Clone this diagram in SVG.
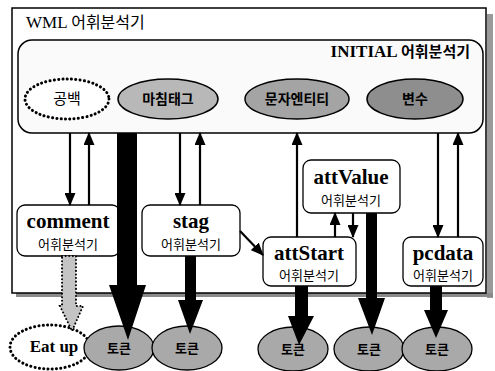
<svg xmlns="http://www.w3.org/2000/svg" width="495" height="371" viewBox="0 0 495 371">
<defs>
<marker id="ah" markerUnits="userSpaceOnUse" viewBox="0 0 13 11" markerWidth="13" markerHeight="11" refX="12" refY="5.5" orient="auto">
<path d="M0,0 L13,5.5 L0,11 z" fill="#000"/>
</marker>
<style>
.kr{font-family:"Noto Sans CJK KR","Noto Sans",sans-serif;fill:#000}
.ser{font-family:"Liberation Serif","Noto Sans CJK KR",serif;fill:#000}
.b{font-weight:bold}
.box{fill:#fff;stroke:#000;stroke-width:1.3}
.gell{stroke:#000;stroke-width:1.5}
.dot{fill:#fff;stroke:#000;stroke-width:3;stroke-dasharray:0.1 4.2;stroke-linecap:round}
.thin{stroke:#000;stroke-width:2.2;fill:none;marker-end:url(#ah)}
.thick{fill:#000}
.tok{fill:#a9a9a9;stroke:#000;stroke-width:1.3}
</style>
</defs>
<rect width="495" height="371" fill="#fff"/>
<g id="wml">
<rect x="487" y="14" width="6" height="284" fill="#9a9a9a"/>
<rect x="16" y="293" width="477" height="4" fill="#8a8a8a"/>
<rect x="12" y="8" width="474" height="285" fill="#fff" stroke="#000" stroke-width="1.5"/>
<text x="26" y="28" class="ser" font-size="17">WML <tspan class="kr" font-size="16">어휘분석기</tspan></text>
</g>
<g id="initial">
<rect x="18" y="40" width="465" height="93" rx="14" fill="#fafafa" stroke="#000" stroke-width="1.5"/>
<text x="470" y="57" text-anchor="end" class="ser b" font-size="17">INITIAL <tspan class="kr" font-size="15">어휘분석기</tspan></text>
</g>
<g id="gongbaek">
<ellipse cx="67" cy="99" rx="42" ry="20" class="dot"/>
<text x="67" y="104" text-anchor="middle" class="kr" font-size="15">공백</text>
</g>
<g id="machimtag">
<ellipse cx="168" cy="99" rx="50" ry="20" fill="#b8b8b8" class="gell"/>
<text x="168" y="104" text-anchor="middle" class="kr b" font-size="14">마침태그</text>
</g>
<g id="munjaentity">
<ellipse cx="297" cy="99" rx="52" ry="20" fill="#a4a4a4" class="gell"/>
<text x="297" y="104" text-anchor="middle" class="kr b" font-size="14">문자엔티티</text>
</g>
<g id="byeonsu">
<ellipse cx="415" cy="99" rx="48" ry="20" fill="#8e8e8e" class="gell"/>
<text x="415" y="104" text-anchor="middle" class="kr b" font-size="14">변수</text>
</g>
<g id="comment">
<rect x="17" y="205" width="103" height="51" rx="8" class="box"/>
<text x="68" y="228" text-anchor="middle" class="ser b" font-size="21">comment</text>
<text x="68" y="249" text-anchor="middle" class="kr" font-size="13">어휘분석기</text>
</g>
<g id="stag">
<rect x="142" y="205" width="98" height="51" rx="8" class="box"/>
<text x="191" y="228" text-anchor="middle" class="ser b" font-size="21">stag</text>
<text x="191" y="249" text-anchor="middle" class="kr" font-size="13">어휘분석기</text>
</g>
<g id="attValue">
<rect x="303" y="160" width="97" height="53" rx="8" class="box"/>
<text x="351" y="184" text-anchor="middle" class="ser b" font-size="21">attValue</text>
<text x="351" y="205" text-anchor="middle" class="kr" font-size="13">어휘분석기</text>
</g>
<g id="attStart">
<rect x="263" y="237" width="93" height="49" rx="8" class="box"/>
<text x="309" y="260" text-anchor="middle" class="ser b" font-size="21">attStart</text>
<text x="309" y="280" text-anchor="middle" class="kr" font-size="13">어휘분석기</text>
</g>
<g id="pcdata">
<rect x="403" y="237" width="80" height="49" rx="8" class="box"/>
<text x="443" y="260" text-anchor="middle" class="ser b" font-size="21">pcdata</text>
<text x="443" y="280" text-anchor="middle" class="kr" font-size="13">어휘분석기</text>
</g>
<g id="eatup">
<ellipse cx="50" cy="347" rx="40" ry="22" class="dot"/>
<text x="54" y="352" text-anchor="middle" class="ser b" font-size="17">Eat up</text>
</g>
<g id="token1">
<ellipse cx="119" cy="348" rx="35" ry="22" class="tok"/>
<text x="119" y="353" text-anchor="middle" class="kr b" font-size="13">토큰</text>
</g>
<g id="token2">
<ellipse cx="187" cy="348" rx="35" ry="22" class="tok"/>
<text x="187" y="353" text-anchor="middle" class="kr b" font-size="13">토큰</text>
</g>
<g id="token3">
<ellipse cx="293" cy="349" rx="35" ry="22" class="tok"/>
<text x="293" y="354" text-anchor="middle" class="kr b" font-size="13">토큰</text>
</g>
<g id="token4">
<ellipse cx="369" cy="349" rx="35" ry="22" class="tok"/>
<text x="369" y="354" text-anchor="middle" class="kr b" font-size="13">토큰</text>
</g>
<g id="token5">
<ellipse cx="437" cy="349" rx="35" ry="22" class="tok"/>
<text x="437" y="354" text-anchor="middle" class="kr b" font-size="13">토큰</text>
</g>
<g id="connectors">
<line x1="70" y1="133" x2="70" y2="205" class="thin"/>
<line x1="89" y1="205" x2="89" y2="133" class="thin"/>
<line x1="180" y1="133" x2="180" y2="205" class="thin"/>
<line x1="200" y1="205" x2="200" y2="133" class="thin"/>
<line x1="297" y1="237" x2="297" y2="133" class="thin"/>
<line x1="335" y1="237" x2="335" y2="213" class="thin"/>
<line x1="353" y1="213" x2="353" y2="237" class="thin"/>
<line x1="438" y1="133" x2="438" y2="237" class="thin"/>
<line x1="458" y1="237" x2="458" y2="133" class="thin"/>
<line x1="240" y1="231" x2="263" y2="255" class="thin"/>
<polygon class="thick" points="117,133 137,133 137,285 146,285 128,340 109,285 117,285"/>
<polygon class="thick" points="185,256 196,256 196,300 203,300 190,334 178,300 185,300"/>
<polygon class="thick" points="295,286 308,286 308,316 314,316 299,345 288,316 295,316"/>
<polygon class="thick" points="366,213 377,213 377,298 385,298 372,335 358,298 366,298"/>
<polygon class="thick" points="430,286 442,286 442,310 448,310 436,338 424,310 430,310"/>
<polygon points="62,256 76,256 76,306 83,306 72,331 60,306 62,306" fill="#c4c4c4" stroke="#000" stroke-width="2" stroke-dasharray="0.1 3.5" stroke-linecap="round"/>
</g>
</svg>
